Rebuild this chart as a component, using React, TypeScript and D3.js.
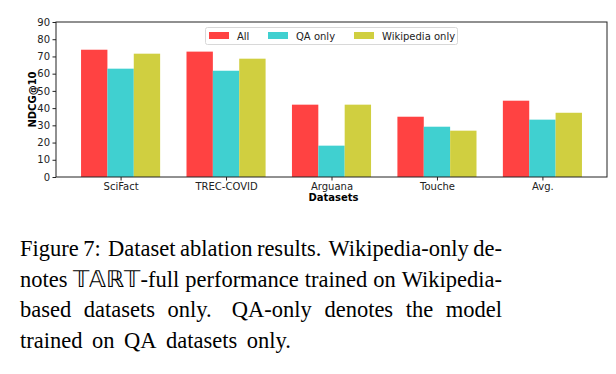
import React, { useEffect, useRef } from "react";
import * as d3 from "d3";

const categories = ["SciFact", "TREC-COVID", "Arguana", "Touche", "Avg."];
const seriesNames = ["All", "QA only", "Wikipedia only"];
const allValues = [73.9, 72.8, 42.0, 35.0, 44.3];
const qaValues = [62.9, 61.7, 18.2, 29.2, 33.3];
const wikiValues = [71.6, 68.7, 42.0, 26.9, 37.3];
const yTicks = [0, 10, 20, 30, 40, 50, 60, 70, 80, 90];
const colors = ["#ff4242", "#40d0d0", "#d0cf40"];
const captionLines = [
  "Figure 7: Dataset ablation results. Wikipedia-only de-",
  "notes 𝕋𝔸ℝ𝕋-full performance trained on Wikipedia-",
  "based datasets only. QA-only denotes the model",
  "trained on QA datasets only.",
];

const W = 616, H = 374;
const PL = 56, PR = 607, PT = 22, PB = 177;

export default function App() {
  const ref = useRef<SVGSVGElement>(null);
  useEffect(() => {
    const svg = d3.select(ref.current);
    svg.selectAll("*").remove();
    const series = [allValues, qaValues, wikiValues];
    const x = d3.scaleLinear().domain([-0.6125, 4.6125]).range([PL, PR]);
    const y = d3.scaleLinear().domain([0, 90]).range([PB, PT]);
    const bw = 0.25;
    const font = "DejaVu Sans";

    series.forEach((vals, si) => {
      svg.append("g").selectAll("rect").data(vals).join("rect")
        .attr("x", (_d, i) => x(i + (si - 1) * bw - bw / 2))
        .attr("width", x(bw) - x(0))
        .attr("y", (d) => y(d))
        .attr("height", (d) => y(0) - y(d))
        .attr("fill", colors[si]);
    });

    const yAxis = svg.append("g").attr("transform", `translate(${PL},0)`)
      .call(d3.axisLeft(y).tickValues(yTicks).tickSize(3.5).tickPadding(2.5));
    yAxis.select(".domain").remove();
    yAxis.selectAll("text").attr("font-family", font).attr("font-size", 10).attr("fill", "#222");
    yAxis.selectAll("line").attr("stroke", "#222");

    const xAxis = svg.append("g").attr("transform", `translate(0,${PB})`)
      .call(d3.axisBottom(x).tickValues(d3.range(categories.length)).tickFormat((d) => categories[d as number]).tickSize(3.5).tickPadding(2.5));
    xAxis.select(".domain").remove();
    xAxis.selectAll("text").attr("font-family", font).attr("font-size", 10).attr("fill", "#222");
    xAxis.selectAll("line").attr("stroke", "#222");

    svg.append("rect").attr("x", PL).attr("y", PT).attr("width", PR - PL).attr("height", PB - PT)
      .attr("fill", "none").attr("stroke", "#222").attr("stroke-width", 1);

    svg.append("text").attr("transform", `translate(36,${(PT + PB) / 2}) rotate(-90)`)
      .attr("text-anchor", "middle").attr("font-family", font).attr("font-weight", "bold")
      .attr("font-size", 10).text("NDCG@10");
    svg.append("text").attr("x", (PL + PR) / 2 + 2).attr("y", 201)
      .attr("text-anchor", "middle").attr("font-family", font).attr("font-weight", "bold")
      .attr("font-size", 10).text("Datasets");

    // legend
    const lg = svg.append("g");
    lg.append("rect").attr("x", 205.5).attr("y", 27.5).attr("width", 252).attr("height", 17)
      .attr("fill", "white").attr("stroke", "#d8d8d8").attr("rx", 2);
    const lx = [209, 268, 354];
    seriesNames.forEach((n, i) => {
      lg.append("rect").attr("x", lx[i]).attr("y", 32).attr("width", 20).attr("height", 7).attr("fill", colors[i]);
      lg.append("text").attr("x", lx[i] + 28).attr("y", 39.5).attr("font-family", font)
        .attr("font-size", 10).attr("fill", "#222").text(n);
    });

    // caption, justified (LaTeX-like: wider space after sentence end)
    const left = 20, right = 502;
    const baselines = [256, 287, 317, 348];
    const fs = 22.5;
    captionLines.forEach((line, li) => {
      const words = line.split(" ");
      const g = svg.append("g");
      const nodes = words.map((w) => g.append("text").attr("y", baselines[li])
        .attr("font-family", "Liberation Serif").attr("font-size", fs).attr("fill", "#000").text(w));
      const widths = nodes.map((n) => (n.node() as SVGTextElement).getComputedTextLength());
      const total = d3.sum(widths);
      const weights = words.slice(0, -1).map((w) => (/[.:]$/.test(w) && w.length > 1 ? 1.6 : 1));
      const wsum = d3.sum(weights);
      const last = li === captionLines.length - 1;
      const unit = last ? 9.5 : Math.max(3, (right - left - total) / wsum);
      let cx = left;
      nodes.forEach((n, i) => { n.attr("x", cx); cx += widths[i] + (i < weights.length ? unit * weights[i] : 0); });
    });
  }, []);
  return (
    <svg ref={ref} width={W} height={H} style={{ position: "absolute", left: 0, top: 0, background: "white" }} />
  );
}
